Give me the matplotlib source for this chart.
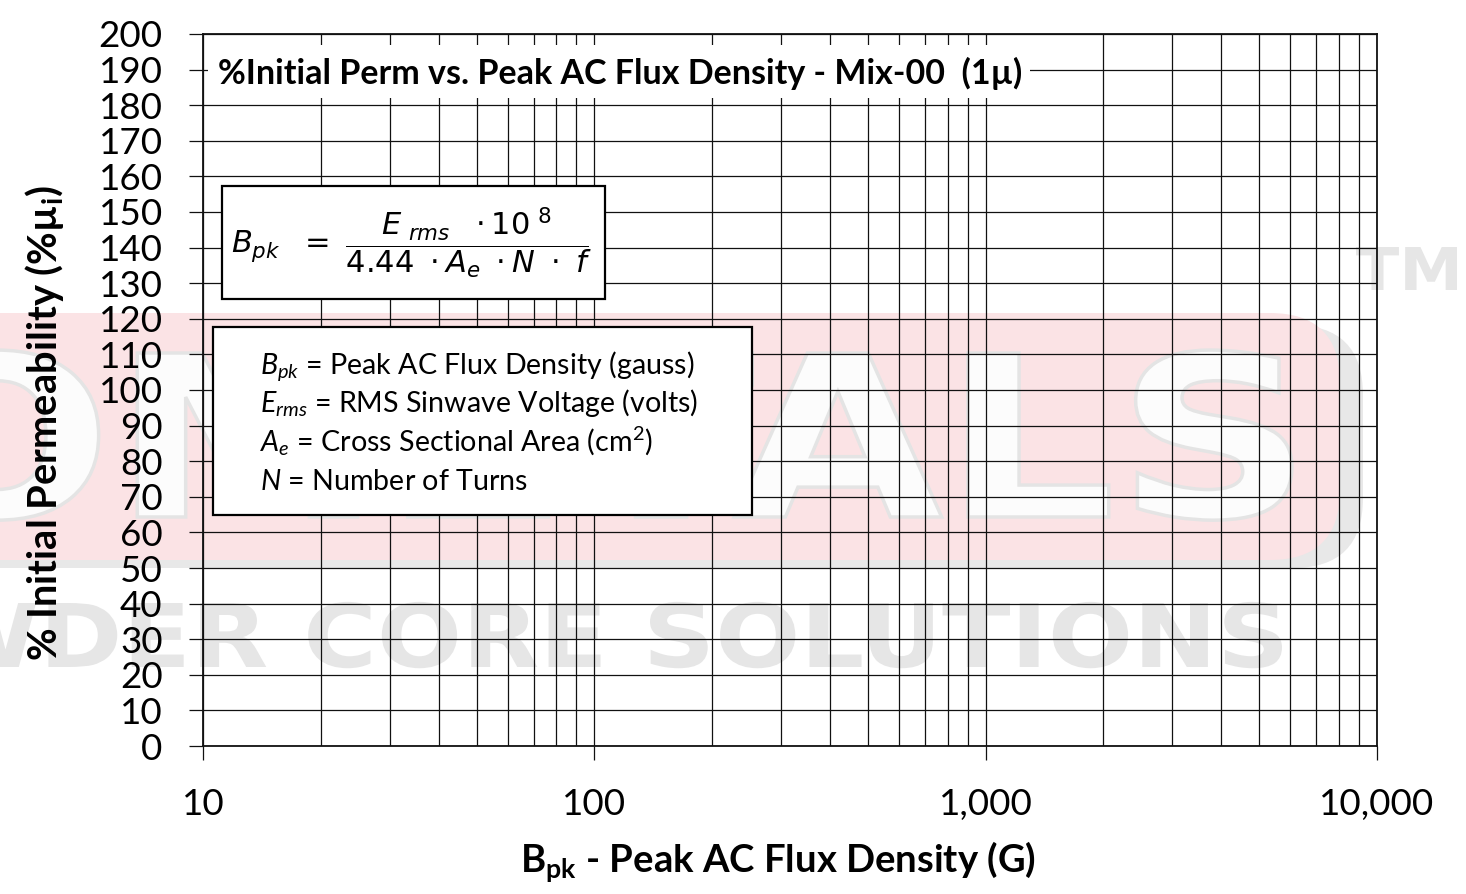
import matplotlib
matplotlib.use("Agg")
import matplotlib.pyplot as plt
from matplotlib.textpath import TextPath
from matplotlib.font_manager import FontProperties
from matplotlib.patches import PathPatch, FancyBboxPatch, Rectangle
from matplotlib.transforms import Affine2D
from matplotlib.ticker import FixedLocator, FixedFormatter, NullFormatter

# ---------------- data ----------------
x_major = [10, 100, 1000, 10000]
x_major_labels = ["10", "100", "1,000", "10,000"]
x_minor = [m * d for d in (10, 100, 1000) for m in range(2, 10)]
y_ticks = list(range(0, 201, 10))
y_tick_labels = [str(v) for v in y_ticks]
x_limits = [10, 10000]
y_limits = [0, 200]

title_text = "%Initial Perm vs. Peak AC Flux Density - Mix-00  (1µ)"
xlabel_text = r"$\mathbf{B}_{\mathbf{pk}}$ - Peak AC Flux Density (G)"
ylabel_text = r"% Initial Permeability (%µ$_{\mathbf{i}}$)"
formula_text = r"$B_{pk}\ \ =\ \dfrac{E_{\ rms}\ \ \cdot 10^{\ 8}}{4.44\ \cdot A_{e}\ \cdot N\ \cdot\ f}$"
legend_lines = [
    r"$B_{pk}$ = Peak AC Flux Density (gauss)",
    r"$E_{rms}$ = RMS Sinwave Voltage (volts)",
    r"$A_{e}$ = Cross Sectional Area (cm$^{\mathrm{2}}$)",
    r"$N$ = Number of Turns",
]
wm_main = "MICROMETALS"
wm_main_tail = "ALS"
wm_sub = "POWDER CORE SOLUTIONS"
wm_sub_tail = "SOLUTIONS"
wm_tm = "TM"

# ---------------- style ----------------
plt.rcParams["font.family"] = ["Lato", "DejaVu Sans"]
plt.rcParams["mathtext.fontset"] = "custom"
plt.rcParams["mathtext.rm"] = "Lato"
plt.rcParams["mathtext.it"] = "Lato:italic"
plt.rcParams["mathtext.bf"] = "Lato:bold"

W, H = 1466, 894
AX_L, AX_R, AX_T, AX_B = 203, 1377, 34, 746

fig = plt.figure(figsize=(W / 100, H / 100), dpi=100)
fig.patch.set_facecolor("white")
pix = Affine2D().scale(1.0 / W, 1.0 / H) + fig.transFigure


def word(text, tail, x_left, x_right, baseline, cap, face, edge, lw, z):
    fp = FontProperties(family="DejaVu Sans", weight="bold")
    tp = TextPath((0, 0), text, size=1, prop=fp)
    ext_full = tp.get_extents()
    ext_tail = TextPath((0, 0), tail, size=1, prop=fp).get_extents()
    cap_u = TextPath((0, 0), "H", size=1, prop=fp).get_extents().height
    sx = (x_right - x_left) / ext_tail.width
    sy = cap / cap_u
    bx = x_right - sx * ext_full.x1
    tr = Affine2D().scale(sx, sy).translate(bx, H - baseline) + pix
    p = PathPatch(tp, transform=tr, facecolor=face, edgecolor=edge, lw=lw, zorder=z)
    fig.patches.append(p)
    p.set_figure(fig)


# watermark background (pink rounded panel with grey shadow)
shadow = FancyBboxPatch((-90, H - 568), 1363 + 90, 568 - 325,
                        boxstyle="round,pad=0,rounding_size=70",
                        transform=pix, facecolor="#e8e8e8", edgecolor="none", zorder=0.2)
panel = FancyBboxPatch((-90, H - 560), 1340 + 90, 560 - 313,
                       boxstyle="round,pad=0,rounding_size=70",
                       transform=pix, facecolor="#fbe3e5", edgecolor="none", zorder=0.3)
for p in (shadow, panel):
    fig.patches.append(p)
    p.set_figure(fig)

word(wm_main, wm_main_tail, 734, 1292, 517, 164, "#fcfcfc", "#e4e4e4", 2.5, 0.4)
word(wm_sub, wm_sub_tail, 650, 1282, 667, 64, "#e6e6e6", "none", 0, 0.4)
word(wm_tm, wm_tm, 1356, 1457, 290, 43, "#e6e6e6", "none", 0, 0.4)

# ---------------- axes ----------------
ax = fig.add_axes([AX_L / W, (H - AX_B) / H, (AX_R - AX_L) / W, (AX_B - AX_T) / H])
ax.set_zorder(2)
ax.set_facecolor("none")
ax.set_xscale("log")
ax.set_xlim(*x_limits)
ax.set_ylim(*y_limits)
ax.xaxis.set_major_locator(FixedLocator(x_major))
ax.xaxis.set_major_formatter(FixedFormatter(x_major_labels))
ax.xaxis.set_minor_locator(FixedLocator(x_minor))
ax.xaxis.set_minor_formatter(NullFormatter())
ax.yaxis.set_major_locator(FixedLocator(y_ticks))
ax.yaxis.set_major_formatter(FixedFormatter(y_tick_labels))

ax.grid(True, which="both", axis="x", color="#111111", lw=0.9)
ax.grid(True, which="major", axis="y", color="#111111", lw=0.9)
ax.set_axisbelow(True)
for s in ax.spines.values():
    s.set_linewidth(1.3)
    s.set_color("#111111")

ax.tick_params(axis="x", which="major", direction="out", length=10, width=0.9,
               labelsize=26.5, pad=20, colors="#111111")
ax.tick_params(axis="x", which="minor", length=0)
ax.tick_params(axis="y", which="major", direction="out", length=10, width=0.9,
               labelsize=26.5, pad=19, colors="#111111")
for lab in ax.get_xticklabels() + ax.get_yticklabels():
    lab.set_color("black")


def axf(px, py):
    return ((px - AX_L) / (AX_R - AX_L), (AX_B - py) / (AX_B - AX_T))


def arect(x0, y0, x1, y1, **kw):
    a = axf(x0, y1)
    b = axf(x1, y0)
    r = Rectangle(a, b[0] - a[0], b[1] - a[1], transform=ax.transAxes, **kw)
    ax.add_patch(r)
    return r


# title box
arect(208, 45, 1030, 98, facecolor="white", edgecolor="none", zorder=4)
t_title = ax.text(*axf(218, 73), title_text, transform=ax.transAxes, ha="left", va="center",
                  fontsize=24, fontweight="bold", color="black", zorder=5)

# formula box
arect(222, 186, 605, 299, facecolor="white", edgecolor="black", lw=1.6, zorder=4)
t_formula = ax.text(*axf(231, 243), formula_text, transform=ax.transAxes, ha="left",
                    va="center", fontsize=21, math_fontfamily="dejavusans",
                    color="black", zorder=5)

# legend box
arect(213, 327, 752, 515, facecolor="white", edgecolor="black", lw=1.6, zorder=4)
baselines = [374, 412, 452, 490]
t_leg = []
for line, by in zip(legend_lines, baselines):
    t = ax.text(*axf(260, by), line, transform=ax.transAxes, ha="left", va="baseline",
                fontsize=20, color="black", zorder=5)
    t_leg.append(t)

# axis labels
t_xl = fig.text(778 / W, (H - 862) / H, xlabel_text, ha="center", va="center",
                fontsize=26, fontweight="bold", color="black")
t_yl = fig.text(45 / W, (H - 423) / H, ylabel_text, ha="center", va="center",
                rotation=90, fontsize=26, fontweight="bold", color="black")

# fit text sizes to the reference extents
renderer = fig.canvas.get_renderer()


def fit(t, target, dim="w"):
    for _ in range(2):
        bb = t.get_window_extent(renderer)
        cur = bb.width if dim == "w" else bb.height
        t.set_fontsize(t.get_fontsize() * target / cur)


fit(t_title, 802)
fit(t_xl, 515)
fit(t_yl, 475, "h")
fit(t_formula, 362)
fit(t_leg[0], 434)
for t in t_leg[1:]:
    t.set_fontsize(t_leg[0].get_fontsize())

fig.savefig("out.png", dpi=100, facecolor="white")
